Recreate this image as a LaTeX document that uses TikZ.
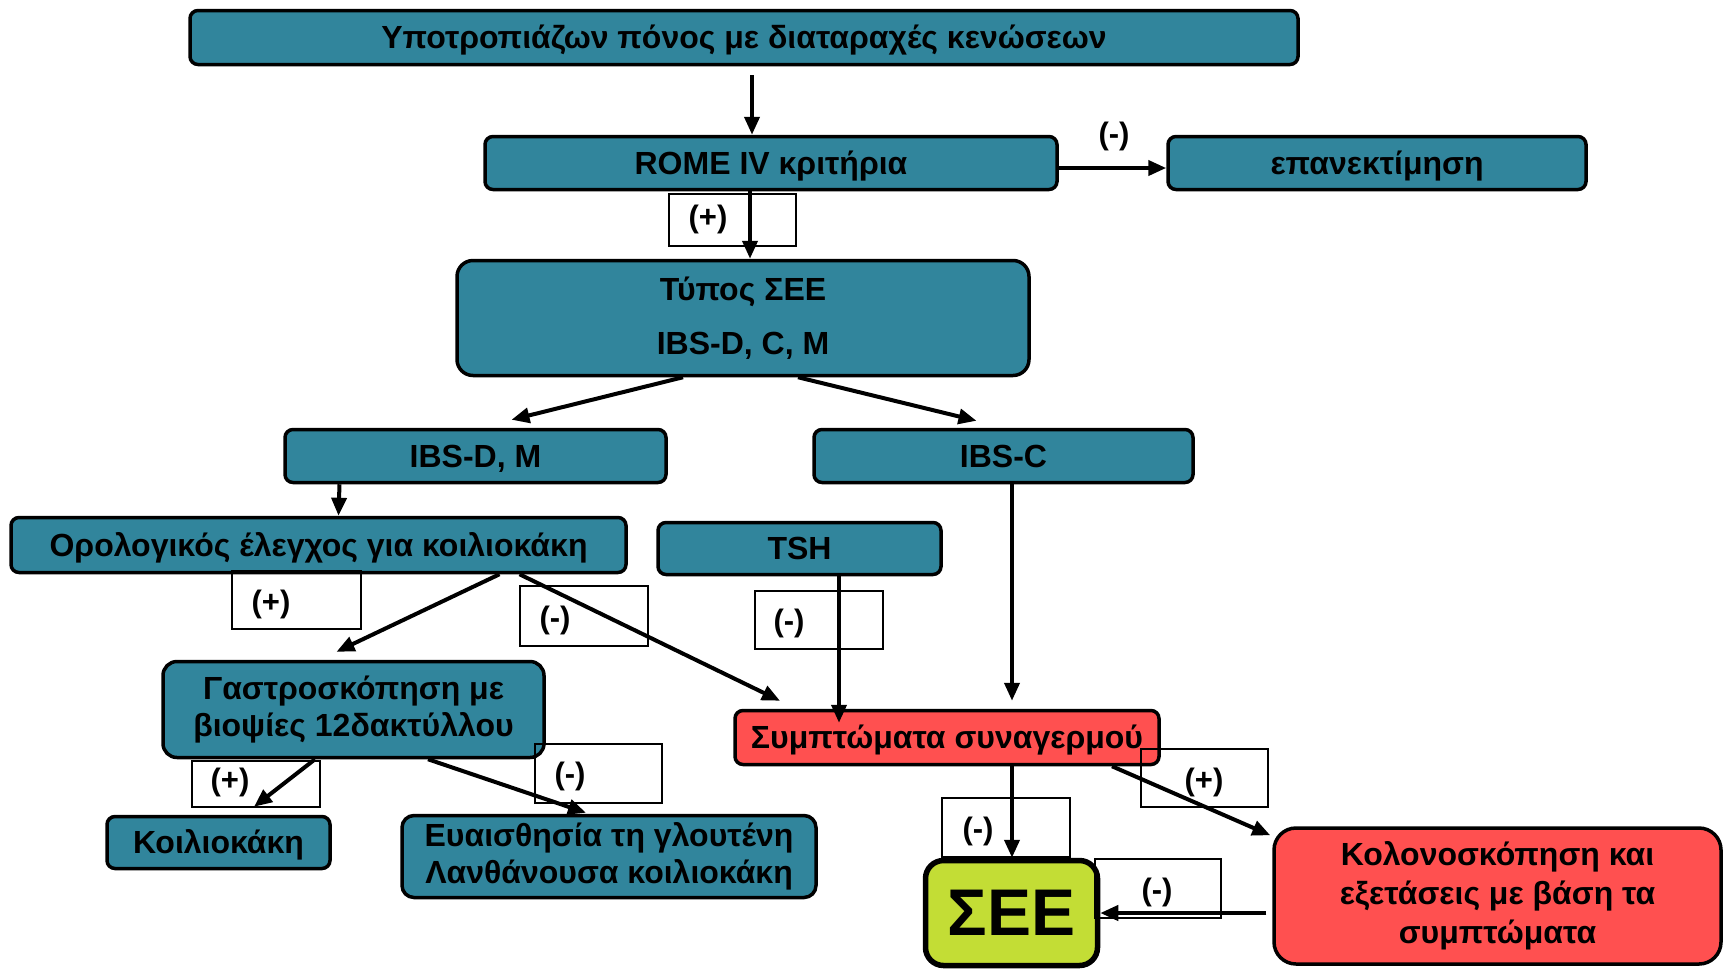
\documentclass[tikz,border=0pt]{standalone}
\usepackage{fontspec}
\setmainfont{Liberation Sans}
\usetikzlibrary{arrows.meta,calc}
\definecolor{tealbox}{HTML}{31859C}
\definecolor{redbox}{HTML}{FF5050}
\definecolor{limebox}{HTML}{C3DD35}
\begin{document}
\begin{tikzpicture}[x=1pt,y=-1pt,
  box/.style={draw=black, line width=3.5pt, rounded corners=8pt, fill=tealbox, text=black,
    font=\bfseries\fontsize{32}{37}\selectfont, align=center, inner sep=0pt},
  one/.style={text height=26pt, text depth=4pt},
  redb/.style={box, fill=redbox},
  lbox/.style={draw=black, line width=1.5pt, inner sep=0pt},
  lab/.style={font=\bfseries\fontsize{31}{35}\selectfont, inner sep=0pt},
  arr/.style={line width=4pt, -{Triangle[length=18pt,width=15pt]}}]
\useasboundingbox (0,0) rectangle (1734,970);

% main boxes
\node[box, one, minimum width=1108pt, minimum height=54pt] (top) at (744,37.5) {Υποτροπιάζων πόνος με διαταραχές κενώσεων};
\node[box, one, minimum width=572pt, minimum height=53pt] (rome) at (771,163) {ROME IV κριτήρια};
\node[box, one, minimum width=418pt, minimum height=53pt] (epan) at (1377,163) {επανεκτίμηση};
\node[box, rounded corners=16pt, minimum width=572pt, minimum height=115pt] (typos) at (743,318) {Τύπος ΣΕΕ\\[17pt]IBS-D, C, M};
\node[box, one, minimum width=381pt, minimum height=53pt] (ibsdm) at (475.5,456) {IBS-D, M};
\node[box, one, minimum width=379pt, minimum height=53pt] (ibsc) at (1003.5,456) {IBS-C};
\node[box, one, minimum width=615pt, minimum height=55pt] (oro) at (318.5,545) {Ορολογικός έλεγχος για κοιλιοκάκη};
\node[box, one, minimum width=283pt, minimum height=52pt] (tsh) at (799.5,548.5) {TSH};
\node[box, rounded corners=14pt, minimum width=381pt, minimum height=96pt] (gastro) at (353.5,709.5) {Γαστροσκόπηση με\\βιοψίες 12δακτύλλου};
\node[redb, one, minimum width=424pt, minimum height=54pt] (symp) at (947,737.5) {Συμπτώματα συναγερμού};
\node[box, one, minimum width=223pt, minimum height=52pt] (koil) at (218.5,842.5) {Κοιλιοκάκη};
\node[box, rounded corners=12pt, minimum width=414pt, minimum height=82pt] (eua) at (609,856.5) {Ευαισθησία τη γλουτένη\\Λανθάνουσα κοιλιοκάκη};
\node[redb, rounded corners=22pt, minimum width=447pt, minimum height=136pt, font=\bfseries\fontsize{32}{39}\selectfont] (kolon) at (1497.5,896) {Κολονοσκόπηση και\\εξετάσεις με βάση τα\\συμπτώματα};
\node[box, fill=limebox, line width=5.5pt, rounded corners=18pt, minimum width=172pt, minimum height=105pt, font=\bfseries\fontsize{66}{70}\selectfont] (see) at (1011.5,913) {ΣΕΕ};

% label frames
\node[lbox, minimum width=127pt, minimum height=52pt] (f1) at (732.5,220) {};
\node[lbox, minimum width=129pt, minimum height=58pt] (f3) at (296.5,600) {};
\node[lbox, minimum width=128pt, minimum height=60pt] (f4) at (584,616) {};
\node[lbox, minimum width=128pt, minimum height=58pt] (f5) at (819,620) {};
\node[lbox, minimum width=128pt, minimum height=46pt] (f6) at (256,784) {};
\node[lbox, minimum width=127pt, minimum height=59pt] (f7) at (598.5,773.5) {};
\node[lbox, minimum width=127pt, minimum height=58pt] (f8) at (1204.5,778) {};
\node[lbox, minimum width=128pt, minimum height=59pt] (f9) at (1006,827.5) {};
\node[lbox, minimum width=126pt, minimum height=59pt] (f10) at (1158,888.5) {};

% label texts
\node[lab] (l1) at (708,219) {(+)};
\node[lab] (l2) at (1114,136) {(-)};
\node[lab] (l3) at (271,604) {(+)};
\node[lab] (l4) at (555,620) {(-)};
\node[lab] (l5) at (789,623) {(-)};
\node[lab] (l6) at (230,782) {(+)};
\node[lab] (l7) at (570,776) {(-)};
\node[lab] (l8) at (1204,782) {(+)};
\node[lab] (l9) at (978,831) {(-)};
\node[lab] (l10) at (1157,892) {(-)};

% connectors
\draw[arr] ($(top.south)+(8,9)$) -- ($(rome.north)+(-19,0)$);
\draw[arr] ($(rome.east)+(0,5)$) -- ($(epan.west)+(0,5)$);
\draw[arr] ($(rome.south)+(-21,0)$) -- ($(typos.north)+(7,0)$);
\draw[arr] ($(typos.south)+(-60,0)$) -- ($(ibsdm.north)+(36,-8)$);
\draw[arr] ($(typos.south)+(55,0)$) -- ($(ibsc.north)+(-27,-7)$);
\draw[arr] ($(ibsdm.south)+(-136,0)$) -- ($(oro.north)+(20,0)$);
\draw[arr] ($(oro.south)+(181,0)$) -- ($(gastro.north)+(-17,-8)$);
\draw[arr] ($(oro.south)+(201,0)$) -- ($(symp.north)+(-167,-8)$);
\draw[arr] ($(tsh.south)+(39.5,0)$) -- ($(symp.north)+(-108,14)$);
\draw[arr] ($(ibsc.south)+(8.5,0)$) -- ($(symp.north)+(65,-8)$);
\draw[arr] ($(gastro.south)+(-38.5,0)$) -- ($(koil.north)+(35.5,-8)$);
\draw[arr] ($(gastro.south)+(74.5,0)$) -- ($(eua.north)+(-23,-1)$);
\draw[arr] ($(symp.south)+(65,0)$) -- ($(see.north)+(0.5,0)$);
\draw[arr] ($(symp.south)+(165,0)$) -- ($(kolon.north west)+(-2,9)$);
\draw[arr] ($(kolon.west)+(-6,17)$) -- (see.east);
\end{tikzpicture}
\end{document}
